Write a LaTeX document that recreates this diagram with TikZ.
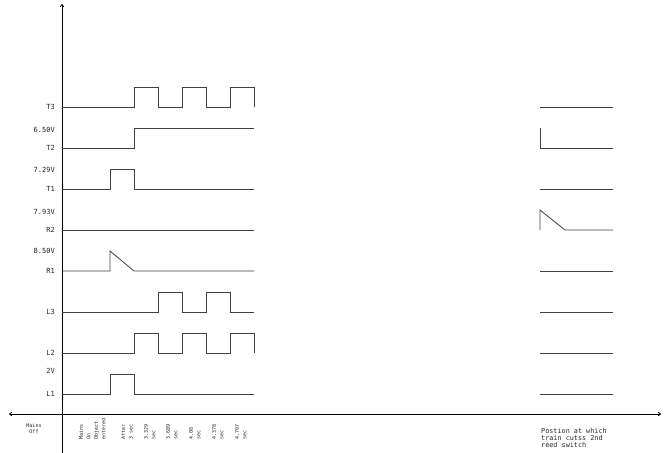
\documentclass[tikz,border=0pt]{standalone}
\usepackage{fontspec}
\setmonofont{DejaVu Sans Mono}
\usetikzlibrary{arrows.meta}
\begin{document}
\begin{tikzpicture}[x=1pt,y=-1pt,
  wave/.style={draw=black!75, line width=0.8pt},
  axis/.style={draw=black, line width=0.8pt},
  lbl/.style={font=\ttfamily\fontsize{7}{8}\selectfont, anchor=east, inner sep=0pt, text=black!85},
  tlbl/.style={font=\ttfamily\fontsize{5}{7.5}\selectfont, rotate=90, anchor=north west, align=left, inner sep=0pt, text=black!85},
  blbl/.style={font=\ttfamily\fontsize{6.8}{7}\selectfont, align=left, inner sep=0pt, text=black!85}]
\useasboundingbox (0,0) rectangle (665,453);
% axes
\coordinate (ytop) at (62,4);
\coordinate (ybot) at (62,453);
\coordinate (xl) at (9,414);
\coordinate (xr) at (661,414);
\draw[axis,-{To[length=3pt,width=4pt]}] (ybot) -- (ytop);
\draw[axis,{To[length=3pt,width=4pt]}-{To[length=3pt,width=4pt]}] (xl) -- (xr);
% left waveforms
\draw[wave] (62,107) -- (134,107) -- (134,87) -- (158,87) -- (158,107) -- (182,107) -- (182,87) -- (206,87) -- (206,107) -- (230,107) -- (230,87) -- (254,87) -- (254,107);
\draw[wave] (62,148) -- (134,148) -- (134,128) -- (254,128);
\draw[wave] (62,189) -- (110,189) -- (110,169) -- (134,169) -- (134,189) -- (254,189);
\draw[wave] (62,230) -- (254,230);
\draw[wave] (62,271) -- (110,271) -- (110,251) -- (134,271) -- (254,271);
\draw[wave] (62,312) -- (158,312) -- (158,292) -- (182,292) -- (182,312) -- (206,312) -- (206,292) -- (230,292) -- (230,312) -- (254,312);
\draw[wave] (62,353) -- (134,353) -- (134,333) -- (158,333) -- (158,353) -- (182,353) -- (182,333) -- (206,333) -- (206,353) -- (230,353) -- (230,333) -- (254,333) -- (254,353);
\draw[wave] (62,394) -- (110,394) -- (110,374) -- (134,374) -- (134,394) -- (254,394);
% right waveforms
\draw[wave] (540,107) -- (613,107);
\draw[wave] (540,128) -- (540,148) -- (613,148);
\draw[wave] (540,189) -- (613,189);
\draw[wave] (540,230) -- (540,210) -- (565,230) -- (613,230);
\draw[wave] (540,271) -- (613,271);
\draw[wave] (540,312) -- (613,312);
\draw[wave] (540,353) -- (613,353);
\draw[wave] (540,394) -- (613,394);
% left labels
\node[lbl] (lT3) at (55,107) {T3};
\node[lbl] (v650) at (55,130) {6.50V};
\node[lbl] (lT2) at (55,148) {T2};
\node[lbl] (v729) at (55,170) {7.29V};
\node[lbl] (lT1) at (55,189) {T1};
\node[lbl] (v793) at (55,212) {7.93V};
\node[lbl] (lR2) at (55,230) {R2};
\node[lbl] (v850) at (55,251) {8.50V};
\node[lbl] (lR1) at (55,271) {R1};
\node[lbl] (lL3) at (55,312) {L3};
\node[lbl] (lL2) at (55,353) {L2};
\node[lbl] (v2) at (55,371) {2V};
\node[lbl] (lL1) at (55,394) {L1};
% bottom labels
\node[font=\ttfamily\fontsize{5}{6}\selectfont, align=center, inner sep=0pt, text=black!85] (moff) at (34,429) {Mains\\Off};
\node[tlbl] (t0) at (79,440) {Mains\\On\\Object\\entered};
\node[tlbl] (t1) at (121,440) {After\\3 sec};
\node[tlbl] (t2) at (144,440) {3.329\\sec};
\node[tlbl] (t3) at (166,440) {3.689\\sec};
\node[tlbl] (t4) at (189,440) {4.08\\sec};
\node[tlbl] (t5) at (212,440) {4.378\\sec};
\node[tlbl] (t6) at (235,440) {4.707\\sec};
\node[blbl, anchor=north west] (pos) at (541,428) {Postion at which\\train cutss 2nd\\reed switch};
\end{tikzpicture}
\end{document}
